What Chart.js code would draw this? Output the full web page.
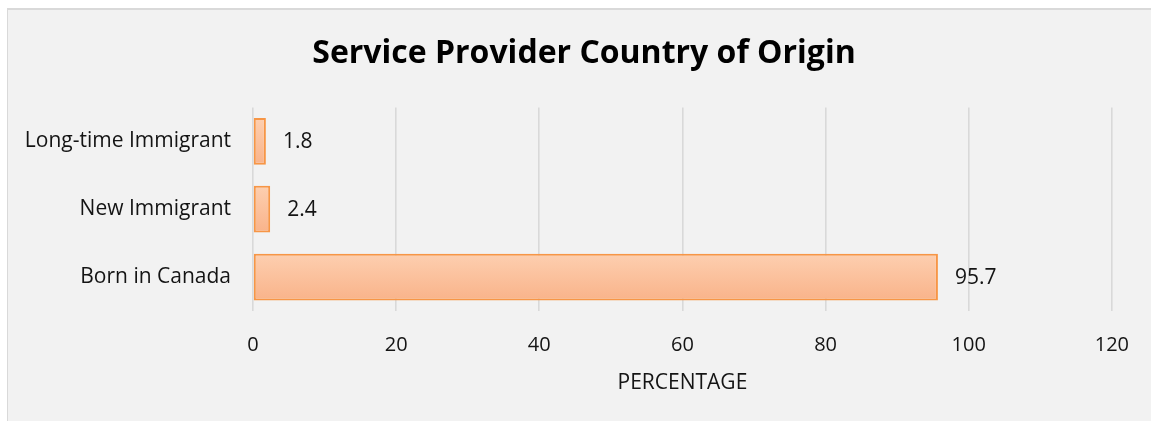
<!DOCTYPE html>
<html>
<head>
<meta charset="utf-8">
<title>Service Provider Country of Origin</title>
<script src="https://cdn.jsdelivr.net/npm/chart.js@4/dist/chart.umd.min.js"></script>
<style>
    html, body { margin: 0; padding: 0; background: #ffffff; }
    #frame {
        position: absolute; left: 7px; top: 8px; width: 1160px; height: 430px;
        background: #f2f2f2; border-left: 1px solid #d9d9d9; border-top: 2px solid #d9d9d9;
    }
    #wrap { position: absolute; left: 0; top: 0; width: 1151px; height: 421px; }
</style>
</head>
<body>
<div id="frame"></div>
<div id="wrap"><canvas id="originChart"></canvas></div>
<script>
    "use strict";

    var categories = ["Long-time Immigrant", "New Immigrant", "Born in Canada"];
    var percentages = [1.8, 2.4, 95.7];
    var tickValues = [0, 20, 40, 60, 80, 100, 120];

    var FONT = "'Open Sans', sans-serif";
    var TEXT = "#141414";
    var BAR_PCT = 0.69;

    // vertical gradient for each bar, light peach on top
    function barFill(context) {
        var chart = context.chart;
        var y = chart.scales.y;
        if (!y || !chart.chartArea) {
            return "#fbc09c";
        }
        var center = y.getPixelForValue(context.dataIndex);
        var half = y.height / categories.length * BAR_PCT / 2;
        var g = chart.ctx.createLinearGradient(0, center - half, 0, center + half);
        g.addColorStop(0, "#fdcfb0");
        g.addColorStop(1, "#f9b38a");
        return g;
    }

    // value labels to the right of each bar
    var valueLabels = {
        id: "valueLabels",
        afterDatasetsDraw: function (chart) {
            var ctx = chart.ctx;
            var meta = chart.getDatasetMeta(0);
            ctx.save();
            ctx.font = "21px " + FONT;
            ctx.fillStyle = TEXT;
            ctx.textAlign = "left";
            ctx.textBaseline = "middle";
            meta.data.forEach(function (bar, i) {
                ctx.fillText(String(percentages[i]), bar.x + 17, bar.y + 1);
            });
            ctx.restore();
        }
    };

    // the title sits a little right of the canvas centre
    var titleShift = {
        id: "titleShift",
        afterLayout: function (chart) {
            if (chart.titleBlock) {
                chart.titleBlock.left += 56;
            }
        }
    };

    function renderChart() {
        var ctx = document.getElementById("originChart").getContext("2d");

        new Chart(ctx, {
            type: "bar",
            data: {
                labels: categories,
                datasets: [{
                    data: percentages,
                    backgroundColor: barFill,
                    borderColor: "#f79646",
                    borderWidth: 2,
                    borderSkipped: false,
                    barPercentage: BAR_PCT,
                    categoryPercentage: 1
                }]
            },
            options: {
                indexAxis: "y",
                responsive: true,
                maintainAspectRatio: false,
                animation: false,
                layout: { padding: { left: 0, right: 39, top: 0, bottom: 25 } },
                plugins: {
                    legend: { display: false },
                    tooltip: { enabled: false },
                    title: {
                        display: true,
                        text: "Service Provider Country of Origin",
                        color: "#000000",
                        font: { family: FONT, size: 32, weight: "bold" },
                        padding: { top: 35, bottom: 34 }
                    }
                },
                scales: {
                    x: {
                        min: 0,
                        max: 120,
                        afterBuildTicks: function (scale) {
                            scale.ticks = tickValues.map(function (v) { return { value: v }; });
                        },
                        afterFit: function (scale) {
                            scale.height = 85;
                        },
                        grid: { color: "#d9d9d9", lineWidth: 1.6, drawTicks: false },
                        border: { display: false },
                        ticks: {
                            color: TEXT,
                            font: { family: FONT, size: 20 },
                            padding: 22,
                            maxRotation: 0
                        },
                        title: {
                            display: true,
                            text: "PERCENTAGE",
                            color: TEXT,
                            font: { family: FONT, size: 21 },
                            padding: { top: 0, bottom: 0 }
                        }
                    },
                    y: {
                        grid: { display: false, drawTicks: false },
                        border: { display: false },
                        ticks: {
                            color: TEXT,
                            font: { family: FONT, size: 21 },
                            padding: 22
                        },
                        afterFit: function (scale) {
                            scale.width = 253;
                        }
                    }
                }
            },
            plugins: [valueLabels, titleShift]
        });
    }

    renderChart();
</script>
</body>
</html>
